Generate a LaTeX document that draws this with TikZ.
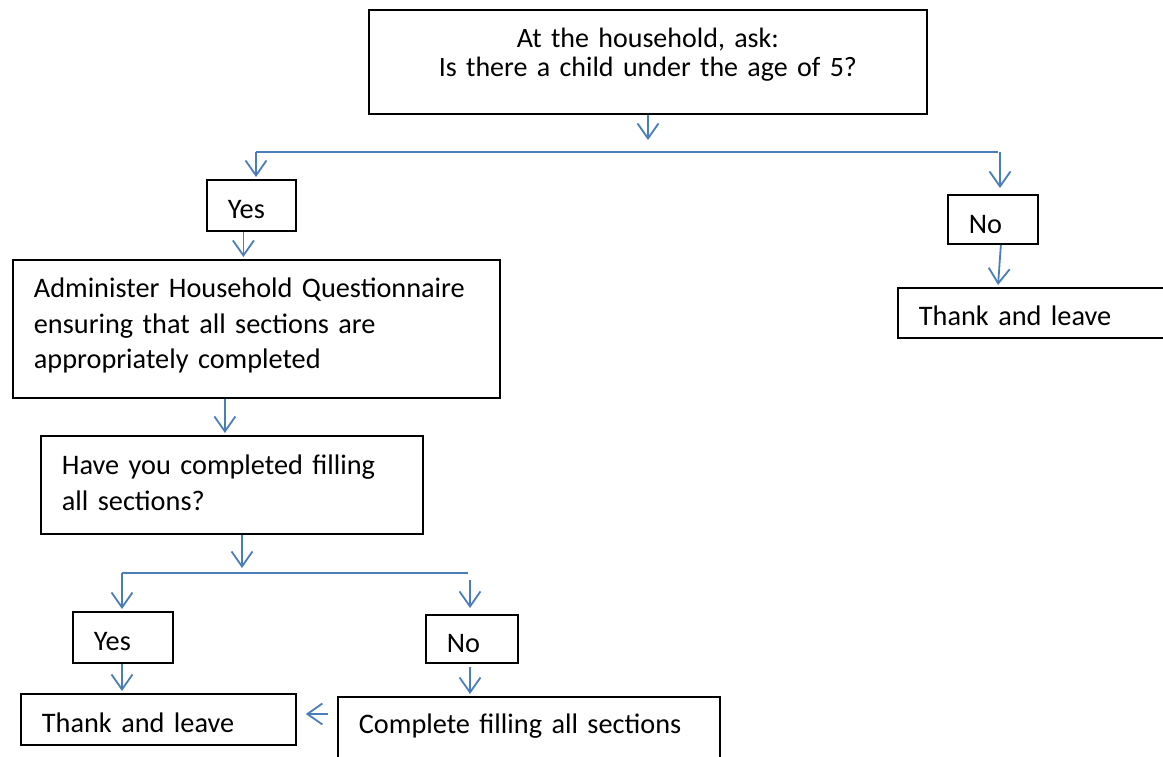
\documentclass[tikz,border=0pt]{standalone}
\usepackage{fontspec}
\setmainfont{Carlito}
\usetikzlibrary{positioning,arrows.meta}
\definecolor{linkblue}{RGB}{74,126,187}

\begin{document}
\begin{tikzpicture}[x=1pt,y=-1pt,>={Straight Barb[length=15pt,width=21pt]},line width=1.8pt,
		box/.style={draw,anchor=north west,align=left,inner xsep=21pt,inner ysep=0pt,font=\fontsize{28.3}{35.5}\selectfont},
		link/.style={draw=linkblue,->,shorten >=2pt}]
				\path[use as bounding box,clip] (0,0) rectangle (1163,757);

				% question and first answers
				\node[box,align=center,text width=516pt,text height=38pt,text depth=66pt,font=\fontsize{28}{28.3}\selectfont] (ask) at (368,9) {At the household, ask:\\Is there a child under the age of 5?};
				\node[box,text width=47pt,text height=39pt,text depth=12pt] (yes1) at (206,179) {Yes};
				\node[box,text width=48pt,text height=39pt,text depth=10pt] (no1) at (947,194) {No};
				\node[box,text width=258pt,text height=38pt,text depth=12pt] (leave1) at (897,287) {Thank and leave};
				\node[box,text width=445pt,text height=38pt,text depth=100pt] (admin) at (12,259) {\mbox{Administer Household Questionnaire}\\ensuring that all sections are\\appropriately completed};

				% check and second answers
				\node[box,text width=340pt,text height=39pt,text depth=59pt] (check) at (40,435) {Have you completed filling\\all sections?};
				\node[box,text width=58pt,text height=39pt,text depth=12pt] (yes2) at (72,611) {Yes};
				\node[box,text width=50pt,text height=38pt,text depth=10pt] (no2) at (425,614) {No};
				\node[box,text width=233pt,text height=39pt,text depth=12pt] (leave2) at (20,693) {Thank and leave};
				\node[box,text width=340pt,text height=37pt,text depth=60pt] (fill) at (337,696) {Complete filling all sections};

				\coordinate (fork1) at (648,152);
				\coordinate (fork1L) at (256,152);
				\coordinate (fork1R) at (1000,152);
				\coordinate (fork2) at (242,573);
				\coordinate (fork2L) at (122,573);
				\coordinate (fork2R) at (470,573);

				\draw[link] (ask.south -| fork1) -- ([yshift=10pt]fork1);
				\draw[link,-] (fork1L) -- (fork1R);
				\draw[link] (fork1L) -- (fork1L |- yes1.north);
				\draw[link,shorten >=6pt] (fork1R) -- (fork1R |- no1.north);
				\draw[link] ([xshift=-8pt]yes1.south) -- ([xshift=-8pt]yes1.south |- admin.north);
				\draw[link] ([xshift=8pt]no1.south) -- ([xshift=5pt]no1.south |- leave1.north);

				\draw[link] ([xshift=-7pt]check.north |- admin.south) -- ([xshift=-7pt]check.north);
				\draw[link] (check.south -| fork2) -- ([yshift=3pt]fork2);
				\draw[link,-] (fork2L) -- (fork2R);
				\draw[link] (fork2L) -- (fork2L |- yes2.north);
				\draw[link,shorten >=6pt] ([yshift=-7pt]fork2R) -- (fork2R |- no2.north);
				\draw[link] (yes2.south -| fork2L) -- (fork2L |- leave2.north);
				\draw[link] ([yshift=-3pt]no2.south -| fork2R) -- (fork2R |- fill.north);
				\draw[link,shorten <=9pt,shorten >=9pt] (fill.west |- 0,714) -- (leave2.east |- 0,714);
\end{tikzpicture}
\end{document}
